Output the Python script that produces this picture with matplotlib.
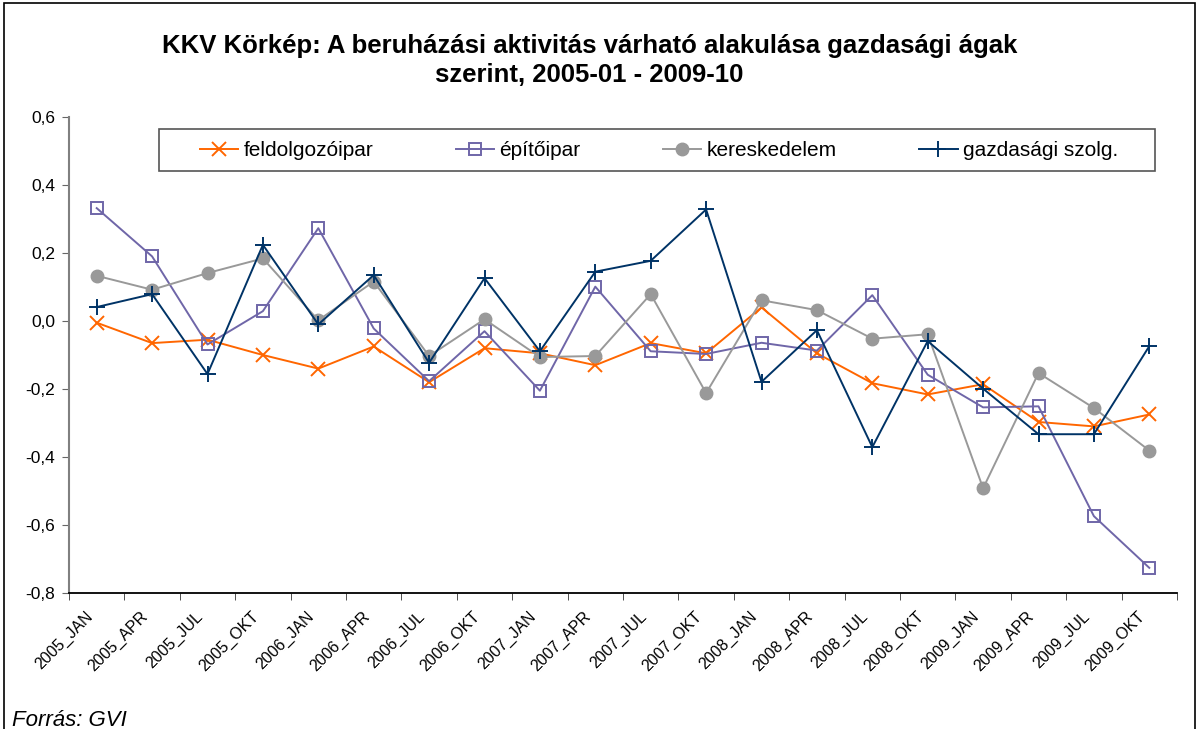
import matplotlib
matplotlib.use("Agg")
import matplotlib.pyplot as plt
import matplotlib.transforms as mtransforms
from matplotlib.lines import Line2D
from matplotlib.patches import Rectangle
from matplotlib.ticker import FuncFormatter, FixedLocator

plt.rcParams['font.family'] = ['Liberation Sans', 'DejaVu Sans']

honapok = ['2005_JAN', '2005_APR', '2005_JUL', '2005_OKT',
           '2006_JAN', '2006_APR', '2006_JUL', '2006_OKT',
           '2007_JAN', '2007_APR', '2007_JUL', '2007_OKT',
           '2008_JAN', '2008_APR', '2008_JUL', '2008_OKT',
           '2009_JAN', '2009_APR', '2009_JUL', '2009_OKT']

feldolgozoipar = [-0.005, -0.065, -0.055, -0.10, -0.14, -0.075, -0.18, -0.08,
                  -0.095, -0.13, -0.065, -0.095, 0.04, -0.095, -0.183, -0.216,
                  -0.186, -0.297, -0.31, -0.275]
epitoipar = [0.332, 0.19, -0.069, 0.029, 0.273, -0.022, -0.177, -0.03,
             -0.205, 0.101, -0.089, -0.097, -0.064, -0.087, 0.076, -0.158,
             -0.254, -0.251, -0.574, -0.726]
kereskedelem = [0.133, 0.092, 0.141, 0.184, 0.002, 0.116, -0.103, 0.005,
                -0.106, -0.103, 0.079, -0.212, 0.061, 0.032, -0.052, -0.039,
                -0.492, -0.153, -0.256, -0.381]
gazd_szolg = [0.041, 0.079, -0.156, 0.224, -0.01, 0.135, -0.123, 0.126,
              -0.089, 0.145, 0.177, 0.328, -0.179, -0.027, -0.371, -0.059,
              -0.199, -0.333, -0.333, -0.074]

W, H = 1198, 729
fig = plt.figure(figsize=(W / 100, H / 100), dpi=100)
ax = fig.add_axes([69 / W, 1 - 593 / H, 1108 / W, 476 / H])

x = list(range(len(honapok)))
ax.plot(x, feldolgozoipar, color='#FF6600', lw=1.4, marker='x', ms=10, mew=1.4,
        label='feldolgozóipar')
ax.plot(x, epitoipar, color='#6F66A8', lw=1.4, marker='s', ms=9, mew=1.4,
        mfc='none', label='építőipar')
ax.plot(x, kereskedelem, color='#999999', lw=1.4, marker='o', ms=9,
        label='kereskedelem')
ax.plot(x, gazd_szolg, color='#003366', lw=1.4, marker='+', ms=12, mew=1.4,
        label='gazdasági szolg.')

ax.set_xlim(-0.5, len(honapok) - 0.5)
ax.set_ylim(-0.8, 0.6)
ax.set_yticks([-0.8, -0.6, -0.4, -0.2, 0.0, 0.2, 0.4, 0.6])
ax.yaxis.set_major_formatter(
    FuncFormatter(lambda v, p: f'{v:.1f}'.replace('.', ',').replace('-0,0', '0,0')))

# category labels in the middle, tick marks on the boundaries
ax.set_xticks(x)
ax.set_xticklabels(honapok, rotation=45, ha='right', rotation_mode='anchor', fontsize=11.5)
ax.tick_params(axis='x', length=0, pad=8)
shift = mtransforms.ScaledTranslation(-0.12, -0.05, fig.dpi_scale_trans)
for lbl in ax.get_xticklabels():
    lbl.set_transform(lbl.get_transform() + shift)
ax.xaxis.set_minor_locator(FixedLocator([i - 0.5 for i in range(len(honapok) + 1)]))
ax.tick_params(axis='x', which='minor', length=5, direction='out', color='#333333')
ax.tick_params(axis='y', length=5, direction='out', labelsize=12.5, pad=5, color='#666666')

for s in ['top', 'right']:
    ax.spines[s].set_visible(False)
ax.spines['left'].set_color('#808080')
ax.spines['left'].set_linewidth(1.5)
ax.spines['bottom'].set_color('black')
ax.spines['bottom'].set_linewidth(1.3)

fig.text(0.492, 1 - 46 / H, 'KKV Körkép: A beruházási aktivitás várható alakulása gazdasági ágak',
         ha='center', va='center', fontsize=18.5, fontweight='bold')
fig.text(0.492, 1 - 75 / H, 'szerint, 2005-01 - 2009-10',
         ha='center', va='center', fontsize=18.5, fontweight='bold')

# legend entries spread over the row, frame drawn separately
leg = ax.legend(loc='center', bbox_to_anchor=(200 / W, 1 - 171 / H, 918 / W, 41 / H),
                bbox_transform=fig.transFigure, mode='expand', ncol=4, fontsize=15,
                frameon=False, handlelength=1.83, handletextpad=0.25,
                borderaxespad=0, borderpad=0)
fig.patches.append(Rectangle((159 / W, 1 - 171 / H), 996 / W, 42 / H, transform=fig.transFigure,
                             fill=False, edgecolor='#555555', lw=1.2))

fig.text(12 / W, 1 - 726 / H, 'Forrás: GVI', fontsize=16, style='italic',
         ha='left', va='baseline')

fig.patches.append(Rectangle((4 / W, -0.05), 1191 / W, 1.05 - 3 / H, transform=fig.transFigure,
                             fill=False, edgecolor='black', lw=1.2))

fig.savefig('out.png', dpi=100)
